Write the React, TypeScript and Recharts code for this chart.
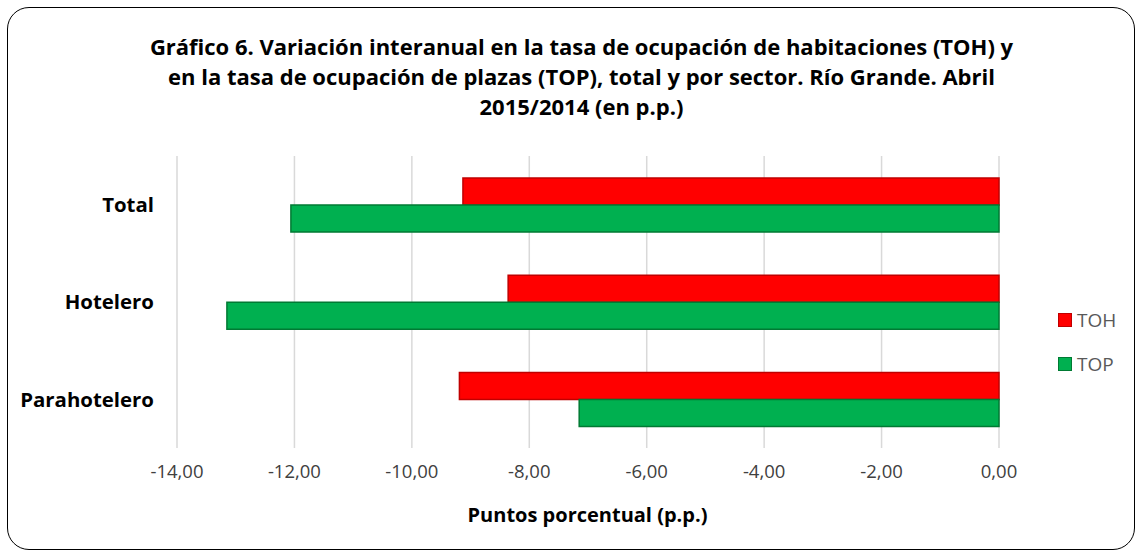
import { BarChart, Bar, XAxis, YAxis, CartesianGrid } from 'recharts'

const sectores = ['Total', 'Hotelero', 'Parahotelero']
const toh = [-9.13, -8.36, -9.19]
const top = [-12.06, -13.15, -7.15]
const ticks = [-14, -12, -10, -8, -6, -4, -2, 0]

const tituloLineas = [
  'Gráfico 6. Variación interanual en la tasa de ocupación de habitaciones (TOH) y',
  'en la tasa de ocupación de plazas (TOP), total y por sector. Río Grande. Abril',
  '2015/2014 (en p.p.)',
]

const data = sectores.map((name, i) => ({ name, TOH: toh[i], TOP: top[i] }))

const FONT = '"Open Sans", Lato, sans-serif'

export default function App() {
  return (
    <div style={{ position: 'absolute', left: 0, top: 0, width: 1139, height: 553, background: '#fff', fontFamily: FONT }}>
      <div
        style={{
          position: 'absolute',
          left: 7,
          top: 7,
          width: 1128,
          height: 543,
          border: '1.5px solid #000',
          borderRadius: 22,
          boxSizing: 'border-box',
        }}
      />
      <div
        style={{
          position: 'absolute',
          left: 0,
          top: 31,
          width: 1163,
          textAlign: 'center',
          fontWeight: 'bold',
          fontSize: 22,
          lineHeight: '30px',
          color: '#000',
        }}
      >
        {tituloLineas.map((l) => (
          <div key={l} style={{ whiteSpace: 'nowrap' }}>{l}</div>
        ))}
      </div>

      <div style={{ position: 'absolute', left: 0, top: 0 }}>
        <BarChart
          width={1139}
          height={553}
          data={data}
          layout="vertical"
          margin={{ top: 156, right: 140, bottom: 75, left: 0 }}
          barCategoryGap="22.5%"
          barGap={0}
        >
          <CartesianGrid horizontal={false} stroke="#d9d9d9" strokeWidth={1.5} />
          <XAxis
            type="number"
            domain={[-14, 0]}
            ticks={ticks}
            height={30}
            tickLine={false}
            axisLine={false}
            tickMargin={11}
            tickFormatter={(v: number) => v.toFixed(2).replace('.', ',')}
            tick={{ fill: '#404040', fontSize: 18.5, fontFamily: FONT }}
          />
          <YAxis
            type="category"
            dataKey="name"
            width={177}
            tickLine={false}
            axisLine={false}
            tickMargin={17}
            tick={{ fill: '#000', fontSize: 20.4, fontWeight: 'bold', fontFamily: FONT }}
          />
          <Bar dataKey="TOH" fill="#ff0000" stroke="#c00000" strokeWidth={1.5} isAnimationActive={false} />
          <Bar dataKey="TOP" fill="#00b050" stroke="#007a33" strokeWidth={1.5} isAnimationActive={false} />
        </BarChart>
      </div>

      <div
        style={{
          position: 'absolute',
          left: 0,
          width: 1175,
          top: 501,
          textAlign: 'center',
          fontWeight: 'bold',
          fontSize: 20,
          color: '#000',
        }}
      >
        Puntos porcentual (p.p.)
      </div>

      {[
        { label: 'TOH', fill: '#ff0000', stroke: '#c00000', y: 307 },
        { label: 'TOP', fill: '#00b050', stroke: '#007a33', y: 351 },
      ].map((it) => (
        <div
          key={it.label}
          style={{ position: 'absolute', left: 1058, top: it.y, display: 'flex', alignItems: 'center', fontSize: 19, color: '#595959' }}
        >
          <span
            style={{
              display: 'inline-block',
              width: 14,
              height: 14,
              background: it.fill,
              border: `1.5px solid ${it.stroke}`,
              boxSizing: 'border-box',
              marginRight: 5,
            }}
          />
          {it.label}
        </div>
      ))}
    </div>
  )
}
